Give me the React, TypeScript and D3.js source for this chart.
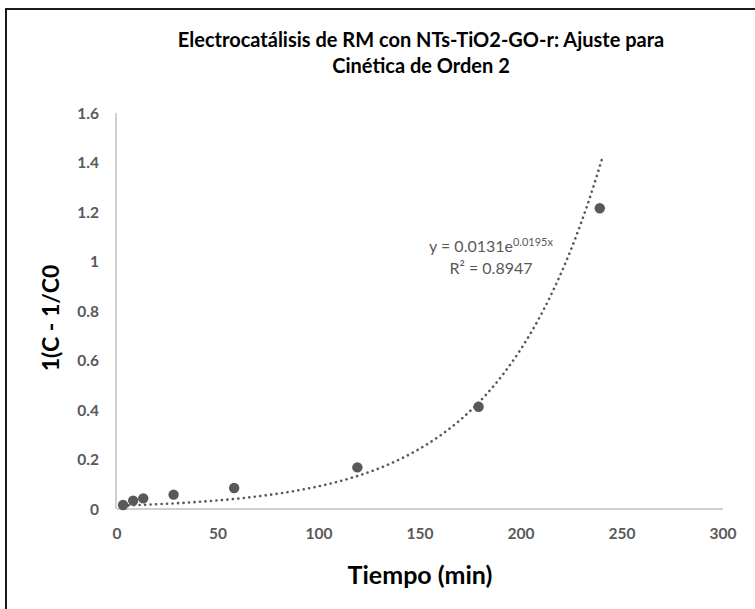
import React from 'react'
import * as d3 from 'd3'

const tiempo = [3, 8, 13, 28, 58, 119, 179, 239]
const valores = [0.016, 0.034, 0.043, 0.058, 0.085, 0.168, 0.413, 1.215]
const xTicks = [0, 50, 100, 150, 200, 250, 300]
const yTicks = [0, 0.2, 0.4, 0.6, 0.8, 1, 1.2, 1.4, 1.6]
const yTickLabels = ['0', '0.2', '0.4', '0.6', '0.8', '1', '1.2', '1.4', '1.6']
const tituloLineas = ['Electrocatálisis de RM con NTs-TiO2-GO-r: Ajuste para', 'Cinética de Orden 2']
// exponential trendline as printed on the chart
const trendA = 0.0131
const trendB = 0.0195
const trendR2 = '0.8947'

const W = 755, H = 609
const grey = '#595959'
const font = 'Lato, "Open Sans", sans-serif'

export default function App() {
  const x = d3.scaleLinear().domain([0, 300]).range([117, 723])
  const y = d3.scaleLinear().domain([0, 1.6]).range([509, 113])

  const xMin = d3.min(tiempo) as number
  const xMax = 240
  const trendPts = d3.range(xMin, xMax + 0.5, 1).map(t => [t, trendA * Math.exp(trendB * t)] as [number, number])
  const line = d3.line<[number, number]>().x(d => x(d[0])).y(d => y(d[1])).curve(d3.curveMonotoneX)

  return (
    <svg width={W} height={H} style={{ position: 'absolute', left: 0, top: 0, background: '#fff' }} fontFamily={font}>
      <rect x={6} y={9} width={800} height={700} fill="#fff" stroke="#1a1a1a" strokeWidth={2} />

      {tituloLineas.map((t, i) => (
        <text key={i} x={421} y={47 + i * 26} textAnchor="middle" fontSize={20} fontWeight={700} fill="#000">{t}</text>
      ))}

      {/* axes */}
      <line x1={x(0)} x2={x(300)} y1={y(0)} y2={y(0)} stroke="#bfbfbf" strokeWidth={1.5} />
      <line x1={x(0) - 1} x2={x(0) - 1} y1={y(1.6)} y2={y(0)} stroke="#bfbfbf" strokeWidth={1.5} />

      {xTicks.map(t => (
        <text key={t} x={x(t)} y={y(0) + 30} textAnchor="middle" fontSize={15.5} fontWeight={700} fill={grey}>{t}</text>
      ))}
      {yTicks.map((t, i) => (
        <text key={t} x={99} y={y(t) + 5.5} textAnchor="end" fontSize={15.5} fontWeight={700} fill={grey}>{yTickLabels[i]}</text>
      ))}

      <text x={420} y={584} textAnchor="middle" fontSize={25} fontWeight={700} fill="#000">Tiempo (min)</text>
      <text transform="translate(59,318) rotate(-90)" textAnchor="middle" fontSize={23} fontWeight={700} fill="#000">1(C - 1/C0</text>

      {/* trendline */}
      <path d={line(trendPts) || ''} fill="none" stroke={grey} strokeWidth={2.6} strokeLinecap="round" strokeDasharray="0.1 5.4" />

      {tiempo.map((t, i) => (
        <circle key={i} cx={x(t)} cy={y(valores[i])} r={5.2} fill={grey} />
      ))}

      <text x={491} y={252} textAnchor="middle" fontSize={16} fill={grey}>
        {`y = ${trendA}e`}<tspan fontSize={11} dy={-6}>{`${trendB}x`}</tspan>
      </text>
      <text x={491} y={274} textAnchor="middle" fontSize={16} fill={grey}>{`R² = ${trendR2}`}</text>
    </svg>
  )
}
